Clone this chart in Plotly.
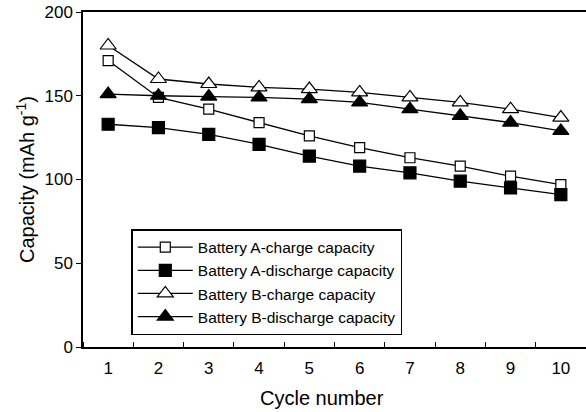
import plotly.graph_objects as go

cycles = [1, 2, 3, 4, 5, 6, 7, 8, 9, 10]
a_charge = [171, 149, 142, 134, 126, 119, 113, 108, 102, 97]
a_discharge = [133, 131, 127, 121, 114, 108, 104, 99, 95, 91]
b_charge = [180, 160, 157, 155, 154, 152, 149, 146, 142, 137]
b_discharge = [151, 150, 149.5, 149, 148, 146, 142, 138, 134, 129]

series = [
    ("Battery A-charge capacity", a_charge, "square", "white", 10),
    ("Battery A-discharge capacity", a_discharge, "square", "black", 12),
    ("Battery B-charge capacity", b_charge, "triangle-up", "white", 14),
    ("Battery B-discharge capacity", b_discharge, "triangle-up", "black", 14),
]

fig = go.Figure()
for name, vals, sym, fill, size in series:
    fig.add_trace(go.Scatter(
        x=cycles, y=vals, name=name, mode="lines+markers",
        line=dict(color="black", width=1.3),
        marker=dict(symbol=sym, color=fill, size=size,
                    line=dict(color="black", width=1.2)),
    ))

fig.update_layout(
    width=586, height=412,
    margin=dict(l=83, r=0, t=12, b=65),
    plot_bgcolor="white", paper_bgcolor="white",
    font=dict(family="Liberation Sans", size=17, color="black"),
    legend=dict(x=0.096, y=0.352, xanchor="left", yanchor="top",
                bordercolor="black", borderwidth=1.5, bgcolor="white",
                font=dict(family="Liberation Sans", size=15.5, color="black"),
                tracegroupgap=0, itemwidth=55),
    xaxis=dict(range=[0.5, 10.5], tickmode="array", tickvals=cycles,
               ticks="", showgrid=False, zeroline=False, ticklabelstandoff=5,
               showline=True, linecolor="black", linewidth=1.5, mirror=True,
               minor=dict(ticks="inside", tick0=0.5, dtick=1, ticklen=5,
                          tickcolor="black", tickwidth=1.2, showgrid=False),
               tickfont=dict(family="Liberation Sans", size=17, color="black")),
    yaxis=dict(range=[0, 200], tickvals=[0, 50, 100, 150, 200],
               ticks="outside", ticklen=5, tickcolor="black", tickwidth=1.2,
               showgrid=False, zeroline=False,
               showline=True, linecolor="black", linewidth=1.5, mirror=False,
               title=dict(text="Capacity (mAh g<sup>-1</sup>)",
                          font=dict(family="Liberation Sans", size=20, color="black"),
                          standoff=4),
               tickfont=dict(family="Liberation Sans", size=17, color="black")),
    annotations=[dict(text="Cycle number", xref="paper", yref="paper",
                      x=0.476, y=-0.152, xanchor="center", yanchor="middle",
                      showarrow=False,
                      font=dict(family="Liberation Sans", size=20, color="black"))],
)

fig.write_html("out.html")
